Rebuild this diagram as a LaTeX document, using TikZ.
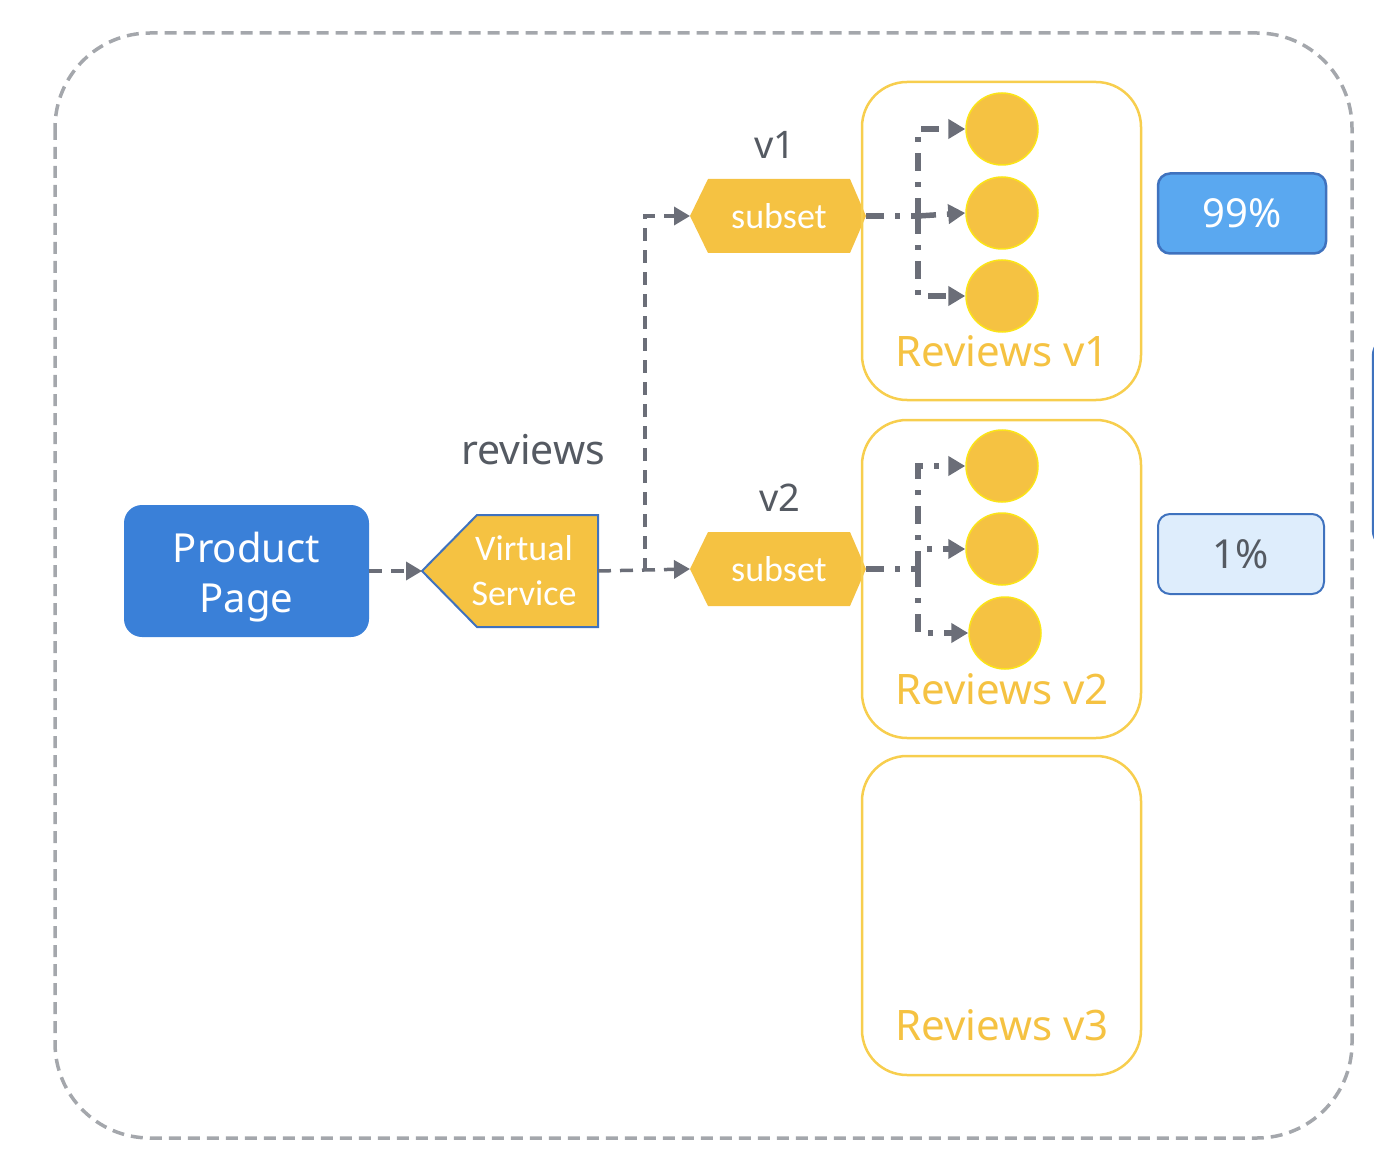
\documentclass[tikz,border=0pt]{standalone}
\usepackage{fontspec}
\setmainfont{Noto Sans}
\newfontfamily\calfont{Carlito}
\usetikzlibrary{arrows.meta}
\definecolor{ygold}{HTML}{F5C242}
\definecolor{yline}{HTML}{F7CE4E}
\definecolor{ppblue}{HTML}{3A80D8}
\definecolor{pblue}{HTML}{5AA8F0}
\definecolor{pbord}{HTML}{3F72BE}
\definecolor{lblue}{HTML}{DEEDFC}
\definecolor{conn}{HTML}{6B6E78}
\definecolor{outer}{HTML}{A4A7AC}
\definecolor{txtgray}{HTML}{555A62}
\tikzset{
  conline/.style={draw=conn, line width=3.5pt, dash pattern=on 13pt off 9pt, -{Triangle[length=16pt,width=18pt]}},
  podline/.style={draw=conn, line width=5.5pt, dash pattern=on 18pt off 11pt on 5pt off 11pt},
  podarrow/.style={podline, -{Triangle[length=17pt,width=19pt]}},
  pod/.style={circle, fill=ygold, draw=yellow!70!ygold, line width=1.5pt, minimum size=72pt, inner sep=0pt},
  revbox/.style={draw=yline, line width=2.5pt, rounded corners=45pt},
  revtxt/.style={text=ygold, font=\fontsize{42}{46}\selectfont},
  lbl/.style={text=txtgray, font=\fontsize{38}{42}\selectfont},
  subtxt/.style={text=white, font=\calfont\fontsize{36}{40}\selectfont},
}
\begin{document}
\begin{tikzpicture}[x=1pt,y=-1pt]
\useasboundingbox (0,0) rectangle (1374,1166);
\begin{scope}
\clip (0,0) rectangle (1374,1166);
\draw[pbord, line width=2.5pt, rounded corners=20pt] (1373,336) rectangle (1500,550);
\end{scope}
% outer dashed
\draw[outer, line width=3.5pt, dash pattern=on 12pt off 7pt, rounded corners=95pt] (55,33) rectangle (1352,1138);
% Product page
\node[fill=ppblue, rounded corners=18pt, minimum width=245pt, minimum height=132pt, inner sep=0pt] (pp) at (246.5,571) {};
\node[text=white, align=center, font=\fontsize{40}{50}\selectfont] (ppt) at (246.5,577) {Product\\Page};
% virtual service
\filldraw[fill=ygold, draw=pbord, line width=2pt] (422,571) -- (477,515) -- (598,515) -- (598,627) -- (477,627) -- cycle;
\coordinate (vsL) at (422,571);
\coordinate (vsR) at (598,571);
\node[subtxt, align=center, font=\calfont\fontsize{36}{45}\selectfont] (vs) at (524,571) {Virtual\\Service};
% subsets
\fill[ygold] (690,216) -- (708,179) -- (850,179) -- (866,216) -- (850,253) -- (708,253) -- cycle;
\fill[ygold] (690,569) -- (708,532) -- (850,532) -- (866,569) -- (850,606) -- (708,606) -- cycle;
\node[subtxt] (sub1) at (779,216) {subset};
\node[subtxt] (sub2) at (779,569) {subset};
\coordinate (s1L) at (690,216);
\coordinate (s1R) at (866,216);
\coordinate (s2L) at (690,569);
\coordinate (s2R) at (866,569);
% labels
\node[lbl] (lv1) at (775,145) {v1};
\node[lbl] (lv2) at (780,498) {v2};
\node[lbl, font=\fontsize{41}{45}\selectfont] (lrev) at (533,450) {reviews};
% review boxes
\draw[revbox] (862,82) rectangle (1141,400);
\draw[revbox] (862,420) rectangle (1141,738);
\draw[revbox] (862,756) rectangle (1141,1075);
\node[revtxt] (r1) at (1002,351) {Reviews v1};
\node[revtxt] (r2) at (1002,689) {Reviews v2};
\node[revtxt] (r3) at (1002,1025) {Reviews v3};
% pods
\node[pod] (c11) at (1002,129) {};
\node[pod] (c12) at (1002,213) {};
\node[pod] (c13) at (1002,296) {};
\node[pod] (c21) at (1002,466) {};
\node[pod] (c22) at (1002,549) {};
\node[pod] (c23) at (1005,633) {};
% percentages
\node[fill=pblue, draw=pbord, line width=2.5pt, rounded corners=12pt, minimum width=168pt, minimum height=80pt,
  text=white, font=\fontsize{40}{44}\selectfont] (p99) at (1242,213.5) {99\%};
\node[fill=lblue, draw=pbord, line width=2pt, rounded corners=12pt, minimum width=166pt, minimum height=80pt,
  text=txtgray, font=\fontsize{40}{44}\selectfont] (p1) at (1241,554) {1\%};
% connectors
\draw[conline] (pp.east) -- (vsL);
\coordinate (br) at (645,571);
\draw[conline] (vsR) -- (s2L);
\draw[conline] (br) |- (s1L);
\coordinate (j1) at (918,216);
\coordinate (j2) at (918,569);
\draw[podline] (s1R) -- (j1);
\draw[podarrow] (j1) -- (c12.west);
\draw[podarrow] (j1) |- (c11.west);
\draw[podarrow] (j1) |- (c13.west);
\draw[podline] (s2R) -- (j2);
\draw[podarrow] (j2) |- (c21.west);
\draw[podarrow] (j2) |- (c22.west);
\draw[podarrow] (j2) |- (c23.west);
\end{tikzpicture}
\end{document}
